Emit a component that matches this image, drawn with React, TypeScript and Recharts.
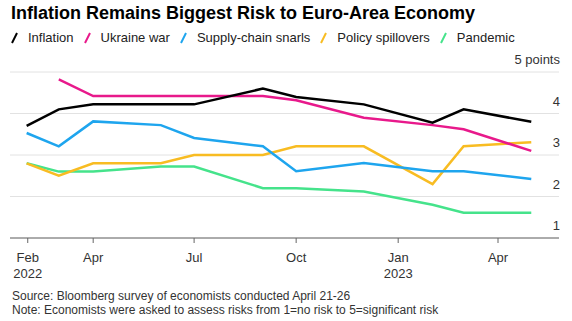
import React from 'react';
import { LineChart, Line, XAxis, YAxis, CartesianGrid } from 'recharts';

const DATES = ['2022-01-31', '2022-03-01', '2022-04-01', '2022-06-01', '2022-07-01', '2022-09-01', '2022-10-01', '2022-12-01', '2023-02-01', '2023-03-01', '2023-05-01'];
const INFLATION = [3.7, 4.1, 4.22, 4.22, 4.22, 4.6, 4.4, 4.22, 3.78, 4.1, 3.8];
const UKRAINE_WAR = [null, 4.82, 4.42, 4.42, 4.42, 4.42, 4.32, 3.9, 3.72, 3.62, 3.1];
const SUPPLY_CHAIN = [3.53, 3.21, 3.81, 3.72, 3.41, 3.21, 2.61, 2.81, 2.61, 2.61, 2.42];
const POLICY = [2.8, 2.5, 2.8, 2.8, 3.0, 3.0, 3.21, 3.21, 2.3, 3.21, 3.31];
const PANDEMIC = [2.8, 2.6, 2.6, 2.72, 2.72, 2.2, 2.2, 2.12, 1.8, 1.61, 1.61];

const TICK_DATES = ['2022-02-01', '2022-04-01', '2022-07-01', '2022-10-01', '2023-01-01', '2023-04-01'];
const TICK_MONTHS = ['Feb', 'Apr', 'Jul', 'Oct', 'Jan', 'Apr'];
const TICK_YEARS = ['2022', '', '', '', '2023', ''];
const Y_TICKS = [1, 2, 3, 4, 5];

const X_DOMAIN = [Date.parse('2022-01-16'), Date.parse('2023-05-26')];

const SERIES = [
  { key: 'inflation', name: 'Inflation', color: '#000000', values: INFLATION },
  { key: 'ukraine', name: 'Ukraine war', color: '#e8198b', values: UKRAINE_WAR },
  { key: 'supply', name: 'Supply-chain snarls', color: '#1ea5ee', values: SUPPLY_CHAIN },
  { key: 'policy', name: 'Policy spillovers', color: '#f8bc22', values: POLICY },
  { key: 'pandemic', name: 'Pandemic', color: '#45e38b', values: PANDEMIC },
];

const data = DATES.map((d, i) => {
  const row: Record<string, number | null> = { t: Date.parse(d) };
  SERIES.forEach(s => { row[s.key] = s.values[i]; });
  return row;
});

const tickValues = TICK_DATES.map(d => Date.parse(d));

const FONT = '"Liberation Sans", Arial, sans-serif';

const MonthTick = (props: any) => {
  const { x, y, payload } = props;
  const i = tickValues.indexOf(payload.value);
  return (
    <g>
      <text x={x} y={y + 18.5} textAnchor="middle" fontSize={13} fill="#333" fontFamily={FONT}>{TICK_MONTHS[i]}</text>
      {TICK_YEARS[i] && (
        <text x={x} y={y + 34.5} textAnchor="middle" fontSize={13} fill="#333" fontFamily={FONT}>{TICK_YEARS[i]}</text>
      )}
    </g>
  );
};

const ValueTick = (props: any) => {
  const { x, y, payload } = props;
  return (
    <text x={x + 1} y={y - 8} textAnchor="end" fontSize={13} fill="#333" fontFamily={FONT}>
      {payload.value === 5 ? '5 points' : payload.value}
    </text>
  );
};

const App: React.FC = () => {
  return (
    <div style={{ position: 'absolute', left: 0, top: 0, width: 572, height: 321, background: '#fff', fontFamily: FONT, overflow: 'hidden' }}>
      <div style={{ position: 'absolute', left: 11, top: 4, fontSize: 18, lineHeight: '18px', fontWeight: 700, color: '#000', whiteSpace: 'nowrap' }}>
        Inflation Remains Biggest Risk to Euro-Area Economy
      </div>
      <div style={{ position: 'absolute', left: 11, top: 31, display: 'flex', fontSize: 13, lineHeight: '14px', color: '#222', whiteSpace: 'nowrap' }}>
        {SERIES.map(s => (
          <div key={s.key} style={{ display: 'flex', alignItems: 'center', marginRight: 10 }}>
            <svg width={7} height={12} style={{ marginRight: 10 }}>
              <line x1={1} y1={11} x2={6} y2={1} stroke={s.color} strokeWidth={2} />
            </svg>
            <span>{s.name}</span>
          </div>
        ))}
      </div>
      <div style={{ position: 'absolute', left: 0, top: 0 }}>
        <LineChart width={572} height={290} data={data} margin={{ top: 72, right: 0, bottom: 0, left: 10 }}>
          <CartesianGrid vertical={false} stroke="#e2e2e2" strokeWidth={1} />
          <XAxis
            dataKey="t"
            type="number"
            domain={X_DOMAIN}
            ticks={tickValues}
            height={52}
            tickSize={5}
            tickMargin={0}
            stroke="#666"
            tick={<MonthTick />}
            interval={0}
            allowDataOverflow
          />
          <YAxis
            orientation="right"
            domain={[1, 5]}
            ticks={Y_TICKS}
            width={13}
            tickSize={0}
            tickMargin={0}
            axisLine={false}
            tickLine={false}
            tick={<ValueTick />}
            interval={0}
          />
          {[...SERIES].reverse().map(s => (
            <Line
              key={s.key}
              dataKey={s.key}
              name={s.name}
              stroke={s.color}
              strokeWidth={2.5}
              dot={false}
              activeDot={false}
              type="linear"
              isAnimationActive={false}
            />
          ))}
        </LineChart>
      </div>
      <div style={{ position: 'absolute', left: 12, top: 289, fontSize: 12, lineHeight: '14px', color: '#333', whiteSpace: 'nowrap' }}>
        <div>Source: Bloomberg survey of economists conducted April 21-26</div>
        <div>Note: Economists were asked to assess risks from 1=no risk to 5=significant risk</div>
      </div>
    </div>
  );
};

export default App;
